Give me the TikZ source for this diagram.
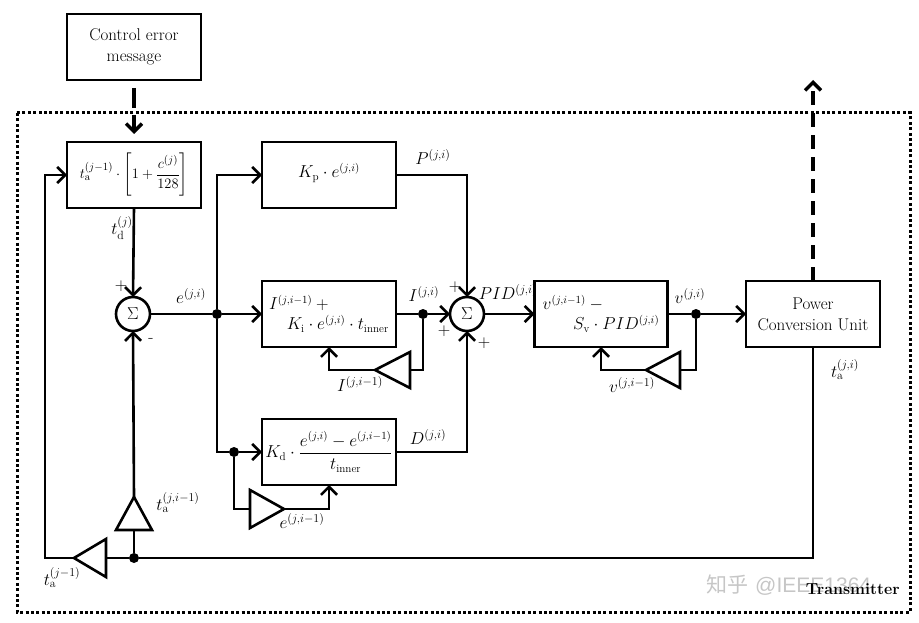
\documentclass[tikz,border=0pt]{standalone}
\usepackage{amsmath}
\usepackage{fontspec}
\newfontfamily\cjk{Noto Sans CJK SC}
\newfontfamily\wmfont{Liberation Sans}
\usetikzlibrary{arrows.meta,calc}
\begin{document}
\begin{tikzpicture}[x=1pt,y=-1pt, line width=2.6pt,
  box/.style={draw, minimum width=134pt, minimum height=66pt, inner sep=2pt, outer sep=0pt, font=\fontsize{17}{21}\selectfont, align=center},
  mbox/.style={box, font=\fontsize{16}{20}\selectfont},
  sumnode/.style={draw, circle, minimum size=34pt, inner sep=0pt, outer sep=0pt, font=\fontsize{16}{17}\selectfont},
  arr/.style={-{Straight Barb[length=8pt,width=16pt]}},
  dotnode/.style={circle, fill, inner sep=0pt, minimum size=10pt, outer sep=0pt},
  lbl/.style={font=\fontsize{17}{18}\selectfont, inner sep=1pt},
  tri/.style={draw, line join=miter, fill=white},
  dashbig/.style={line width=3.4pt, dash pattern=on 14pt off 8pt}]
\useasboundingbox (0,0) rectangle (919,623);

% transmitter frame
\draw[line width=3pt, dash pattern=on 3pt off 2.4pt] (17,113) rectangle (910,612);

% boxes
\node[box] (cem) at (134,47) {Control error\\message};
\node[mbox, font=\fontsize{15.5}{19}\selectfont] (boxA) at (134,175) {$t_{\mathrm{a}}^{(j-1)}\cdot\left[1+\dfrac{c^{(j)}}{128}\right]$};
\node[mbox] (kp) at (329,175) {\raisebox{9pt}{$K_{\mathrm{p}}\cdot e^{(j,i)}$}};
\node[mbox, align=left] (ibox) at (329,314) {$I^{(j,i-1)}+{}$\\\hspace{1.1em}$K_{\mathrm{i}}\cdot e^{(j,i)}\cdot t_{\mathrm{inner}}$};
\node[mbox] (dbox) at (329,452) {$K_{\mathrm{d}}\cdot\dfrac{e^{(j,i)}-e^{(j,i-1)}}{t_{\mathrm{inner}}}$};
\node[mbox, minimum width=133pt, align=left] (vbox) at (601,314) {$v^{(j,i-1)}-{}$\\\hspace{1.9em}$S_{\mathrm{v}}\cdot PID^{(j,i)}$};
\node[box] (pcu) at (813,314) {Power\\Conversion Unit};

% summing junctions
\node[sumnode] (sum1) at (133,314) {$\Sigma$};
\node[sumnode] (sum2) at (467,314) {$\Sigma$};

% dots
\node[dotnode] (je) at (217,314) {};
\node[dotnode] (jd) at (234,452) {};
\node[dotnode] (jI) at (423,314) {};
\node[dotnode] (jv) at (696,314) {};
\node[dotnode] (jb) at (134,558) {};

% triangle coordinates
\coordinate (tiTip) at (375,370); \coordinate (tiBase) at (410,370);
\coordinate (tvTip) at (646,370); \coordinate (tvBase) at (680,370);
\coordinate (tdTip) at (284,509); \coordinate (tdBase) at (250,509);
\coordinate (tbTip) at (74,558);  \coordinate (tbBase) at (106,558);
\coordinate (tuTip) at (134,497); \coordinate (tuBase) at (134,530);
\coordinate (lc) at (45,558);
\coordinate (cs) at (134,88); \coordinate (ce) at (134,134);
\coordinate (ue) at (813,80);

% connectors
\draw[arr] (boxA.south) -- (sum1.north);
\draw (sum1.east) -- (je);
\draw[arr] (je) |- (kp.west);
\draw[arr] (je) -- (ibox.west);
\draw (je) |- (jd);
\draw[arr] (jd) -- (dbox.west);
\draw[arr] (kp.east) -| (sum2.north);
\draw (ibox.east) -- (jI);
\draw[arr] (jI) -- (sum2.west);
\draw[arr] (dbox.east) -| (sum2.south);
\draw[arr] (sum2.east) -- (vbox.west);
\draw (vbox.east) -- (jv);
\draw[arr] (jv) -- (pcu.west);

% feedback loops
\draw (jI) |- (tiBase);
\draw[arr] (tiTip) -| (ibox.south);
\draw (jv) |- (tvBase);
\draw[arr] (tvTip) -| (vbox.south);
\draw (jd) |- (tdBase);
\draw[arr] (tdTip) -| (dbox.south);
\draw (pcu.south) |- (jb);
\draw (jb) -- (tbBase);
\draw[arr] (tbTip) -- (lc) |- (boxA.west);
\draw (jb) -- (tuBase);
\draw[arr] (tuTip) -- (sum1.south);

% triangles
\draw[tri] (375,370) -- (410,352) -- (410,388) -- cycle;
\draw[tri] (646,370) -- (680,352) -- (680,388) -- cycle;
\draw[tri] (284,509) -- (250,490) -- (250,528) -- cycle;
\draw[tri] (74,558) -- (106,539) -- (106,577) -- cycle;
\draw[tri] (134,497) -- (116,530) -- (152,530) -- cycle;

% dashed arrows
\draw[dashbig, dash pattern=on 20pt off 7pt, arr] (cs) -- (ce);
\draw[dashbig, arr] (pcu.north) -- (ue);

% labels
\node[lbl] (l1) at (122,228) {$t_{\mathrm{d}}^{(j)}$};
\node[lbl] (l2) at (121,286) {$+$};
\node[lbl] (l3) at (151,340) {-};
\node[lbl] (l4) at (191,296) {$e^{(j,i)}$};
\node[lbl] (l5) at (433,157) {$P^{(j,i)}$};
\node[lbl] (l6) at (424,294) {$I^{(j,i)}$};
\node[lbl] (l7) at (455,287) {$+$};
\node[lbl] (l8) at (444,331) {$+$};
\node[lbl] (l9) at (484,343) {$+$};
\node[lbl] (l10) at (508,292) {$PID^{(j,i)}$};
\node[lbl] (l11) at (360,384) {$I^{(j,i-1)}$};
\node[lbl] (l12) at (428,437) {$D^{(j,i)}$};
\node[lbl] (l13) at (302,521) {$e^{(j,i-1)}$};
\node[lbl] (l14) at (690,296) {$v^{(j,i)}$};
\node[lbl] (l15) at (632,385) {$v^{(j,i-1)}$};
\node[lbl] (l16) at (845,370) {$t_{\mathrm{a}}^{(j,i)}$};
\node[lbl] (l17) at (178,503) {$t_{\mathrm{a}}^{(j,i-1)}$};
\node[lbl] (l18) at (62,578) {$t_{\mathrm{a}}^{(j-1)}$};

% watermark and frame label
\node[text=gray!45, font=\fontsize{21}{23}\selectfont, inner sep=0pt] (wm) at (789,585) {{\cjk 知乎} {\wmfont @IEEE1364}};
\node[font=\bfseries\fontsize{16}{18}\selectfont, inner sep=0pt, anchor=east] (tx) at (901,589) {Transmitter};
\end{tikzpicture}
\end{document}
